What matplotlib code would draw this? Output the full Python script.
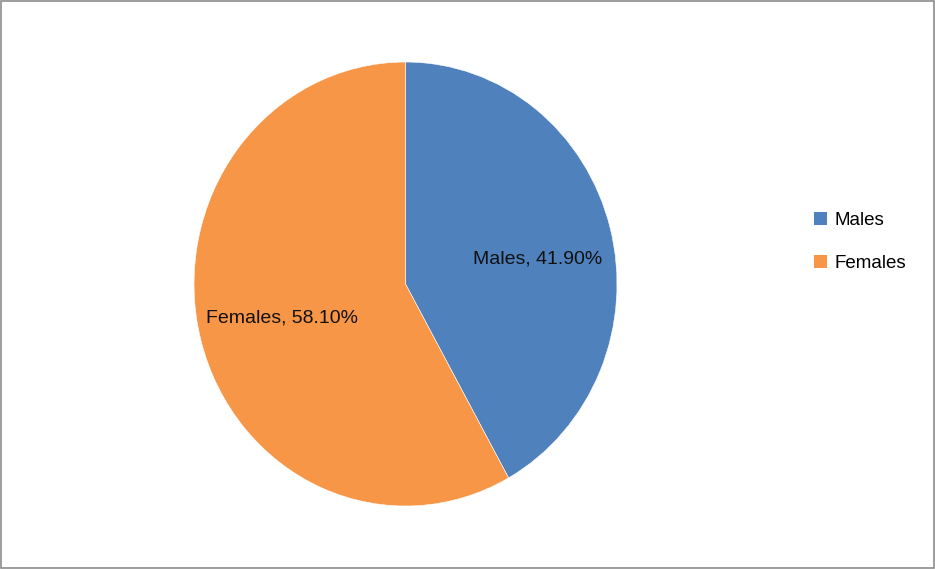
import matplotlib.pyplot as plt
import matplotlib.patches as mpatches

labels = ["Males", "Females"]
shares = [41.90, 58.10]
colors = ["#4F81BD", "#F79646"]

plt.rcParams["font.family"] = ["Liberation Sans", "DejaVu Sans"]

fig = plt.figure(figsize=(9.35, 5.69), dpi=100)
ax = fig.add_axes([0.2075, 0.1107, 0.4524, 0.7803])

wedges, _ = ax.pie(shares, colors=colors, startangle=90, counterclock=False,
                   radius=1.0, frame=False,
                   wedgeprops=dict(linewidth=0.4, edgecolor="white"))
ax.set_aspect("auto")
ax.set_xlim(-1, 1)
ax.set_ylim(-1, 1)
ax.set_axis_off()

# data labels (Excel "best fit" spots)
label_pos = [(0.813, 0.5565), (0.208, 0.4235)]
for name, val, (lx, ly) in zip(labels, shares, label_pos):
    ax.text(lx, ly, f"{name}, {val:.2f}%", transform=ax.transAxes,
            ha="center", va="center", fontsize=14, color="#111111")

handles = [mpatches.Patch(facecolor=c, edgecolor="none", label=l)
           for c, l in zip(colors, labels)]
fig.legend(handles=handles, loc="center left", bbox_to_anchor=(0.8525, 0.5745),
           frameon=False, fontsize=13.5, handlelength=0.7, handleheight=0.7,
           handletextpad=0.4, labelspacing=1.35)

# outer chart frame
fig.patches.append(mpatches.Rectangle((0.001, 0.002), 0.998, 0.996,
                                      transform=fig.transFigure, fill=False,
                                      edgecolor="#8c8c8c", linewidth=1.2))

fig.savefig("out.png", dpi=100)
